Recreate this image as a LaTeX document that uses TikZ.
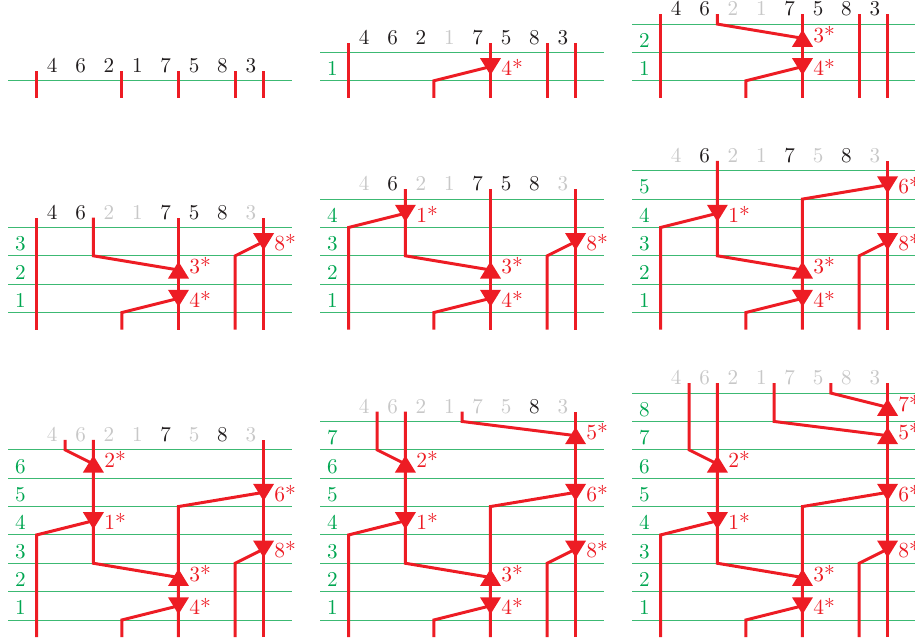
\documentclass[tikz,border=0pt]{standalone}
\definecolor{myred}{RGB}{237,28,36}
\definecolor{mygreen}{RGB}{0,166,81}
\definecolor{linegreen}{RGB}{60,185,115}
\definecolor{mygray}{RGB}{200,200,200}
\definecolor{myblack}{RGB}{35,31,32}
\tikzset{
  strand/.style={myred,line width=1.5pt},
  rowline/.style={linegreen,line width=0.5pt},
  rowlab/.style={text=mygreen,anchor=base,inner sep=0pt,font=\fontsize{10.6}{12}\selectfont},
  hdr/.style={anchor=base,inner sep=0pt,font=\fontsize{10.6}{12}\selectfont},
  arrlab/.style={text=myred,anchor=base west,inner sep=0pt,font=\fontsize{10.8}{12}\selectfont},
}
\newcommand\drawpanel[3]{%
\begin{scope}[shift={(#2,#3)}]
  \pgfmathsetmacro\T{#1+0.35}
  % row lines
  \foreach \j in {0,...,#1} {\draw[rowline] (-0.5,\j) -- (9.5,\j);}
  % row labels
  \ifnum#1>0
    \foreach \r in {1,...,#1} {\node[rowlab] (r#1-\r) at (-0.07,\r-0.82) {\r};}
  \fi
  % header
  \foreach \v [count=\i] in {4,6,2,1,7,5,8,3} {%
    \ifnum\v>#1 \def\cc{myblack}\else\def\cc{mygray}\fi
    \node[hdr,text=\cc] (h#1-\i) at (\i+0.05,#1+0.29) {\v};
  }
  % bottom strands
  \ifnum#1<4 \draw[strand] (0.5,-0.6) -- (0.5,\T);
  \else \draw[strand] (0.5,-0.6) -- (0.5,3) -- (2.5,3.5); \fi
  \ifnum#1<1 \draw[strand] (3.5,-0.6) -- (3.5,\T);
  \else \draw[strand] (3.5,-0.6) -- (3.5,0) -- (5.5,0.5); \fi
  \ifnum#1<5 \draw[strand] (5.5,-0.6) -- (5.5,\T);
  \else \draw[strand] (5.5,-0.6) -- (5.5,4) -- (8.5,4.5); \fi
  \ifnum#1<3 \draw[strand] (7.5,-0.6) -- (7.5,\T);
  \else \draw[strand] (7.5,-0.6) -- (7.5,2) -- (8.5,2.5); \fi
  \draw[strand] (8.5,-0.6) -- (8.5,\T);
  % top strands
  \ifnum#1>1 \draw[strand] (2.5,\T) -- (2.5,2) -- (5.5,1.5); \fi
  \ifnum#1>5 \draw[strand] (1.5,\T) -- (1.5,6) -- (2.5,5.5); \fi
  \ifnum#1>6 \draw[strand] (4.5,\T) -- (4.5,7) -- (8.5,6.5); \fi
  \ifnum#1>7 \draw[strand] (6.5,\T) -- (6.5,8) -- (8.5,7.5); \fi
  % arrows
  \foreach \r/\X/\d/\L in {1/5.5/0/4,2/5.5/1/3,3/8.5/0/8,4/2.5/0/1,5/8.5/0/6,6/2.5/1/2,7/8.5/1/5,8/8.5/1/7} {%
    \ifnum\r>#1\relax\else
      \ifnum\d=0
        \fill[myred] (\X-0.37,\r-0.2) -- (\X+0.37,\r-0.2) -- (\X,\r-0.8) -- cycle;
        \node[arrlab] (a#1-\r) at (\X+0.37,\r-0.81) {\L*};
      \else
        \fill[myred] (\X-0.37,\r-0.8) -- (\X+0.37,\r-0.8) -- (\X,\r-0.2) -- cycle;
        \node[arrlab] (a#1-\r) at (\X+0.37,\r-0.64) {\L*};
      \fi
    \fi
  }
\end{scope}}
\begin{document}
\begin{tikzpicture}[x=0.5cm,y=0.5cm]
  \useasboundingbox (0,0) rectangle (32.26,22.60);
  \drawpanel{0}{0.793}{19.75}
  \drawpanel{1}{11.793}{19.75}
  \drawpanel{2}{22.793}{19.75}
  \drawpanel{3}{0.793}{11.58}
  \drawpanel{4}{11.793}{11.58}
  \drawpanel{5}{22.793}{11.58}
  \drawpanel{6}{0.793}{0.74}
  \drawpanel{7}{11.793}{0.74}
  \drawpanel{8}{22.793}{0.74}
\end{tikzpicture}
\end{document}
